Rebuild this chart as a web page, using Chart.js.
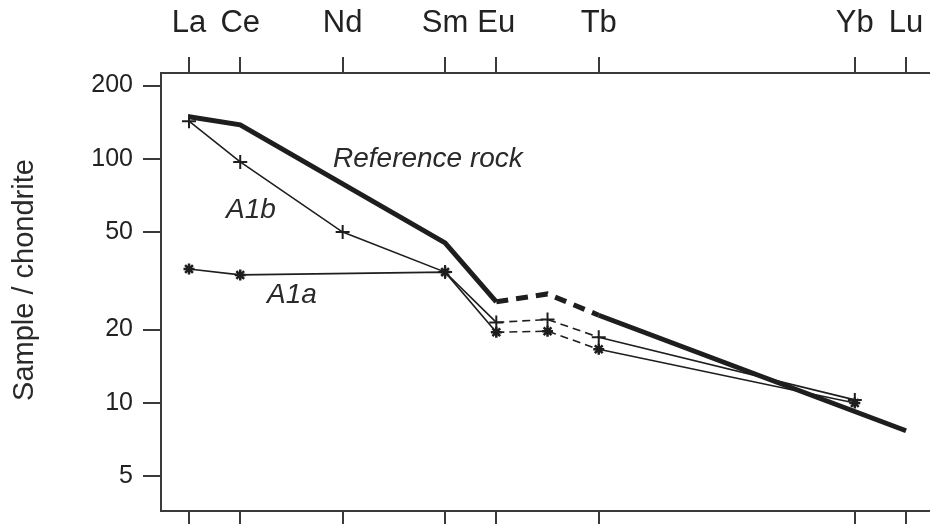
<!DOCTYPE html>
<html>
<head>
<meta charset="utf-8">
<script src="https://cdn.jsdelivr.net/npm/chart.js@4"></script>
<style>
  html, body { margin: 0; padding: 0; background: #fff; }
  #wrap { width: 930px; height: 524px; position: relative; }
</style>
</head>
<body>
<div id="wrap"><canvas id="reeChart"></canvas></div>
<script>
// element symbols and their atomic numbers (x positions)
const elements = ["La", "Ce", "Nd", "Sm", "Eu", "Tb", "Yb", "Lu"];
const elementZ = [57, 58, 60, 62, 63, 65, 70, 71];

// reference rock (thick line)
const refZ = [57, 58, 62, 63, 64, 65, 71];
const refRock = [149, 138, 45.3, 26, 28, 22.9, 7.7];

// sample A1b (plus markers)
const a1bZ = [57, 58, 60, 62, 63, 64, 65, 70];
const a1b = [143, 97.3, 50.2, 34.4, 21.4, 22.0, 18.6, 10.3];

// sample A1a (star markers)
const a1aZ = [57, 58, 62, 63, 64, 65, 70];
const a1a = [35.4, 33.5, 34.4, 19.5, 19.7, 16.6, 10.0];

const yTicks = [5, 10, 20, 50, 100, 200];

const FONT = '"Liberation Sans", Arial, sans-serif';
const INK = "#1e1e1e";
const AXIS = "#3a3a3a";

function toPoints(xs, ys) {
  return xs.map((x, i) => ({ x: x, y: ys[i] }));
}

// dash the stretch between Eu and Tb (Gd is interpolated)
function dashEuTb(pattern) {
  return function (ctx) {
    return ctx.p0.parsed.x >= 63 && ctx.p1.parsed.x <= 65 ? pattern : undefined;
  };
}

// keep the plot box fixed: no extra room for edge labels
function noPadding(axis) {
  axis.paddingLeft = 0;
  axis.paddingRight = 0;
  axis.paddingTop = 0;
  axis.paddingBottom = 0;
}

const labelsPlugin = {
  id: "textLabels",
  afterDraw(chart) {
    const c = chart.ctx;
    c.save();
    c.fillStyle = "#2a2a2a";
    c.textAlign = "left";
    c.textBaseline = "alphabetic";
    c.font = "italic 28px " + FONT;
    c.fillText("Reference rock", 333, 167);
    c.fillText("A1b", 226, 218);
    c.fillText("A1a", 267, 303);

    c.font = "29px " + FONT;
    c.textAlign = "center";
    c.translate(33, 280);
    c.rotate(-Math.PI / 2);
    c.fillText("Sample / chondrite", 0, 0);
    c.restore();
  },
};

const ctx = document.getElementById("reeChart").getContext("2d");

new Chart(ctx, {
  type: "line",
  data: {
    datasets: [
      {
        label: "Reference rock",
        data: toPoints(refZ, refRock),
        borderColor: INK,
        borderWidth: 5,
        pointRadius: 0,
        tension: 0,
        segment: { borderDash: dashEuTb([12, 8]) },
      },
      {
        label: "A1b",
        data: toPoints(a1bZ, a1b),
        borderColor: INK,
        borderWidth: 1.6,
        pointStyle: "cross",
        pointRadius: 7,
        pointBorderWidth: 2,
        pointBorderColor: INK,
        tension: 0,
        segment: { borderDash: dashEuTb([8, 5]) },
      },
      {
        label: "A1a",
        data: toPoints(a1aZ, a1a),
        borderColor: INK,
        borderWidth: 1.6,
        pointStyle: "star",
        pointRadius: 5.5,
        pointBorderWidth: 2.5,
        pointBorderColor: INK,
        pointBackgroundColor: INK,
        tension: 0,
        segment: { borderDash: dashEuTb([8, 5]) },
      },
    ],
  },
  options: {
    responsive: true,
    maintainAspectRatio: false,
    animation: false,
    layout: { padding: 0, autoPadding: false },
    plugins: {
      legend: { display: false },
      tooltip: { enabled: false },
    },
    scales: {
      x: {
        type: "linear",
        position: "top",
        min: 56.453,
        max: 71.468,
        afterBuildTicks: function (axis) {
          axis.ticks = elementZ.map((v) => ({ value: v }));
        },
        afterFit: function (axis) {
          axis.height = 73;
          noPadding(axis);
        },
        ticks: {
          autoSkip: false,
          maxRotation: 0,
          padding: 15,
          color: "#222",
          font: { family: FONT, size: 31 },
          callback: function (v) {
            return elements[elementZ.indexOf(v)];
          },
        },
        grid: { drawOnChartArea: false, color: AXIS, lineWidth: 2, tickLength: 16 },
        border: { display: true, color: AXIS, width: 2 },
      },
      x2: {
        type: "linear",
        axis: "x",
        position: "bottom",
        min: 56.453,
        max: 71.468,
        afterBuildTicks: function (axis) {
          axis.ticks = elementZ.map((v) => ({ value: v }));
        },
        afterFit: function (axis) {
          axis.height = 13;
          noPadding(axis);
        },
        ticks: { display: false },
        grid: { drawOnChartArea: false, color: AXIS, lineWidth: 2, tickLength: 16 },
        border: { display: true, color: AXIS, width: 2 },
      },
      y: {
        type: "logarithmic",
        min: 3.61,
        max: 225.2,
        afterBuildTicks: function (axis) {
          axis.ticks = yTicks.map((v) => ({ value: v }));
        },
        afterFit: function (axis) {
          axis.width = 161;
          noPadding(axis);
        },
        ticks: {
          padding: 10,
          color: "#222",
          font: { family: FONT, size: 25 },
          callback: function (v) {
            return String(v);
          },
        },
        grid: { drawOnChartArea: false, color: AXIS, lineWidth: 2, tickLength: 18 },
        border: { display: true, color: AXIS, width: 2 },
      },
    },
  },
  plugins: [labelsPlugin],
});
</script>
</body>
</html>
